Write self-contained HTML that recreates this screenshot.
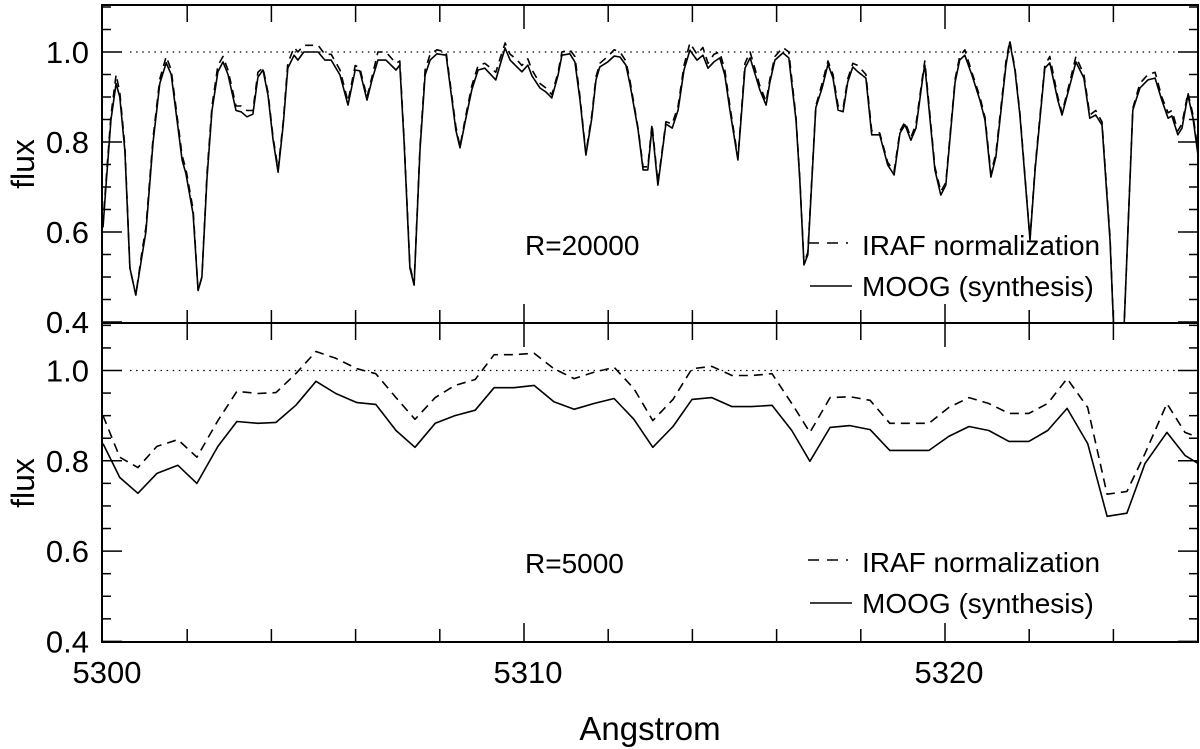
<!DOCTYPE html>
<html><head><meta charset="utf-8"><style>
html,body{margin:0;padding:0;background:#fff;}
svg{display:block;font-family:"Liberation Sans",Arial,sans-serif;}
</style></head><body>
<svg id="chart" width="1200" height="749" viewBox="0 0 1200 749">
<defs>
<clipPath id="clipTop"><rect x="102" y="5" width="1096" height="318"/></clipPath>
<clipPath id="clipBot"><rect x="102" y="323" width="1096" height="319"/></clipPath>
</defs>
</svg>
<script>
const topWave=[5300.00,5300.07,5300.19,5300.31,5300.40,5300.52,5300.64,5300.78,5300.93,5301.02,
5301.19,5301.35,5301.50,5301.62,5301.73,5301.88,5301.97,5302.14,5302.26,5302.35,
5302.47,5302.59,5302.73,5302.85,5302.97,5303.16,5303.28,5303.42,5303.56,5303.68,
5303.80,5303.92,5304.04,5304.16,5304.28,5304.39,5304.54,5304.63,5304.77,5305.11,
5305.27,5305.42,5305.63,5305.82,5305.99,5306.10,5306.27,5306.39,5306.53,5306.72,
5306.96,5307.05,5307.15,5307.29,5307.39,5307.53,5307.65,5307.77,5307.93,5308.15,
5308.29,5308.38,5308.48,5308.62,5308.76,5308.91,5309.07,5309.33,5309.43,5309.55,
5309.67,5309.81,5309.95,5310.09,5310.19,5310.38,5310.52,5310.66,5310.81,5310.90,
5311.09,5311.21,5311.33,5311.47,5311.61,5311.71,5311.80,5311.99,5312.14,5312.28,
5312.42,5312.52,5312.71,5312.83,5312.94,5313.04,5313.18,5313.37,5313.52,5313.66,
5313.80,5313.94,5314.11,5314.25,5314.37,5314.51,5314.65,5314.77,5314.89,5315.08,
5315.25,5315.37,5315.51,5315.60,5315.75,5315.84,5315.96,5316.15,5316.29,5316.46,
5316.55,5316.65,5316.74,5316.93,5317.08,5317.22,5317.34,5317.46,5317.58,5317.69,
5317.81,5317.93,5318.12,5318.26,5318.45,5318.64,5318.79,5318.93,5319.05,5319.19,
5319.31,5319.48,5319.52,5319.76,5319.90,5320.02,5320.24,5320.35,5320.47,5320.64,
5320.83,5320.95,5321.09,5321.21,5321.45,5321.54,5321.66,5321.78,5322.02,5322.14,
5322.37,5322.49,5322.68,5322.78,5322.97,5323.11,5323.30,5323.44,5323.58,5323.73,
5323.92,5324.01,5324.25,5324.46,5324.63,5324.82,5324.99,5325.15,5325.30,5325.39,
5325.53,5325.63,5325.77,5325.89,5326.01];
const topMoog=[0.61,0.70,0.85,0.93,0.90,0.78,0.52,0.46,0.55,0.60,
0.80,0.93,0.976,0.95,0.87,0.76,0.73,0.64,0.47,0.50,
0.72,0.87,0.956,0.978,0.95,0.87,0.867,0.856,0.862,0.944,
0.96,0.904,0.804,0.733,0.838,0.964,0.993,0.982,1.0,1.0,
0.982,0.982,0.949,0.882,0.96,0.958,0.893,0.938,0.982,0.982,
0.96,0.971,0.804,0.52,0.482,0.782,0.949,0.982,0.996,0.993,
0.893,0.827,0.787,0.853,0.916,0.96,0.964,0.938,0.971,1.009,
0.982,0.969,0.956,0.971,0.947,0.92,0.911,0.898,0.949,0.993,
0.996,0.978,0.893,0.771,0.853,0.938,0.967,0.978,0.991,0.989,
0.971,0.927,0.827,0.738,0.738,0.833,0.704,0.84,0.831,0.871,
0.96,1.004,0.982,0.993,0.964,0.978,0.987,0.949,0.871,0.76,
0.964,0.987,0.944,0.916,0.882,0.933,0.982,0.998,0.987,0.849,
0.716,0.527,0.549,0.876,0.92,0.973,0.942,0.871,0.867,0.933,
0.967,0.956,0.942,0.816,0.816,0.749,0.727,0.82,0.838,0.804,
0.831,0.949,0.971,0.738,0.682,0.704,0.933,0.982,0.993,0.949,
0.893,0.849,0.722,0.767,0.971,1.022,0.96,0.86,0.582,0.738,
0.964,0.976,0.893,0.86,0.927,0.978,0.942,0.853,0.86,0.838,
0.582,0.38,0.38,0.871,0.92,0.938,0.942,0.893,0.853,0.858,
0.816,0.831,0.904,0.853,0.771];
const topIraf=[0.62,0.71,0.86,0.95,0.91,0.79,0.52,0.46,0.56,0.61,
0.81,0.94,0.99,0.96,0.88,0.77,0.74,0.65,0.47,0.50,
0.73,0.88,0.97,0.99,0.96,0.88,0.88,0.87,0.87,0.955,
0.965,0.91,0.81,0.74,0.845,0.975,1.01,1.0,1.015,1.015,
0.995,0.995,0.96,0.89,0.97,0.965,0.90,0.945,1.0,1.0,
0.975,0.98,0.81,0.525,0.485,0.79,0.96,0.995,1.005,1.0,
0.90,0.835,0.79,0.86,0.925,0.97,0.975,0.955,0.985,1.02,
0.995,0.985,0.97,0.985,0.96,0.93,0.92,0.905,0.955,1.0,
1.005,0.99,0.90,0.775,0.86,0.945,0.975,0.99,1.005,1.0,
0.98,0.935,0.83,0.745,0.745,0.84,0.71,0.845,0.84,0.88,
0.97,1.02,0.995,1.01,0.975,0.995,1.0,0.96,0.88,0.765,
0.975,1.0,0.955,0.925,0.89,0.94,0.99,1.01,1.0,0.855,
0.72,0.53,0.555,0.88,0.93,0.98,0.95,0.88,0.875,0.94,
0.975,0.97,0.95,0.825,0.82,0.755,0.735,0.825,0.845,0.81,
0.84,0.955,0.98,0.745,0.69,0.71,0.94,0.99,1.005,0.955,
0.90,0.855,0.73,0.775,0.98,1.025,0.965,0.865,0.585,0.745,
0.97,0.99,0.90,0.865,0.935,0.99,0.95,0.86,0.87,0.845,
0.59,0.38,0.38,0.875,0.93,0.95,0.955,0.90,0.865,0.87,
0.825,0.84,0.91,0.86,0.78];
const botWave=[5300.00,5300.40,5300.83,5301.28,5301.78,5302.23,5302.73,5303.18,5303.68,5304.11,
5304.58,5305.06,5305.53,5306.03,5306.48,5306.96,5307.41,5307.89,5308.36,5308.84,
5309.29,5309.76,5310.24,5310.71,5311.19,5311.66,5312.14,5312.61,5313.06,5313.54,
5313.99,5314.46,5314.94,5315.41,5315.89,5316.36,5316.79,5317.27,5317.74,5318.22,
5318.69,5319.17,5319.62,5320.09,5320.57,5321.04,5321.52,5321.99,5322.44,5322.90,
5323.39,5323.85,5324.32,5324.75,5325.27,5325.70,5326.01];
const botMoog=[0.838,0.763,0.728,0.772,0.79,0.75,0.832,0.887,0.883,0.885,
0.923,0.976,0.949,0.929,0.925,0.867,0.83,0.883,0.90,0.912,
0.962,0.962,0.967,0.931,0.914,0.927,0.938,0.892,0.83,0.876,
0.936,0.94,0.92,0.92,0.923,0.867,0.799,0.874,0.878,0.869,
0.823,0.823,0.823,0.854,0.876,0.867,0.843,0.843,0.867,0.916,
0.838,0.677,0.684,0.794,0.863,0.812,0.794];
const botIraf=[0.90,0.808,0.785,0.832,0.847,0.808,0.889,0.954,0.949,0.951,
0.993,1.042,1.027,1.004,0.993,0.94,0.892,0.94,0.967,0.98,
1.035,1.035,1.038,1.004,0.982,0.996,1.007,0.96,0.889,0.936,
1.004,1.009,0.989,0.989,0.993,0.927,0.863,0.94,0.942,0.934,
0.883,0.883,0.883,0.918,0.94,0.927,0.905,0.905,0.927,0.982,
0.918,0.726,0.732,0.816,0.927,0.863,0.852];
const yTickLabels=["0.4","0.6","0.8","1.0"];
const yTickValues=[0.4,0.6,0.8,1.0];
const xTickLabels=["5300","5310","5320"];
const xTickValues=[5300,5310,5320];

const NS="http://www.w3.org/2000/svg";
const svg=document.getElementById("chart");
const X0=103, PX_PER_A=42.1, XL=102, XR=1198;
function xs(w){return X0+(w-5300)*PX_PER_A;}
const panels=[{top:5,bot:323,y1:52,clip:"clipTop",name:"top"},{top:323,bot:642,y1:370.5,clip:"clipBot",name:"bottom"}];
function ys(p,v){return p.y1-(v-1)*((p.name==="top")?450:451.5);}
function mk(tag,attrs,parent){const e=document.createElementNS(NS,tag);for(const k in attrs)e.setAttribute(k,attrs[k]);(parent||svg).appendChild(e);return e;}

panels.forEach((p,pi)=>{
  const g=mk("g",{});
  
  
  // dotted continuum
  const dl=mk("line",{x1:130,x2:1180,y1:ys(p,1),y2:ys(p,1),stroke:"#000","stroke-width":1.3,"stroke-dasharray":"1.5 4.6"},g);
  
  
  // series
  const series=pi===0?[[topWave,topIraf,"8 6","iraf-line"],[topWave,topMoog,null,"moog-line"]]:[[botWave,botIraf,"9 6","iraf-line"],[botWave,botMoog,null,"moog-line"]];
  series.forEach(s=>{
    const n=Math.min(s[0].length,s[1].length);let d="";
    for(let i=0;i<n;i++){d+=(i?"L":"M")+xs(s[0][i]).toFixed(1)+" "+ys(p,s[1][i]).toFixed(1);}
    const a={d:d,fill:"none",stroke:"#000","stroke-width":1.6,"clip-path":"url(#"+p.clip+")","stroke-linejoin":"round"};
    if(s[2])a["stroke-dasharray"]=s[2];
    const path=mk("path",a,g);
    
    
  });
  // frame
  const fr=mk("rect",{x:XL,y:p.top,width:XR-XL,height:p.bot-p.top,fill:"none",stroke:"#000","stroke-width":2},g);
  
  
  // y ticks
  for(let k=0;k<=14;k++){
    const v=0.4+k*0.05;const y=ys(p,v);if(y<p.top+1)continue;
    const major=(k%4===0);const L=major?20:9;
    const t1=mk("line",{x1:XL,x2:XL+L,y1:y,y2:y,stroke:"#000","stroke-width":1.5},g);
    
    
    const t2=mk("line",{x1:XR,x2:XR-L,y1:y,y2:y,stroke:"#000","stroke-width":1.5},g);
    
    
  }
  yTickValues.forEach((v,i)=>{
    const t=mk("text",{x:89,y:ys(p,v)+11,"text-anchor":"end","font-size":31},g);
    t.textContent=yTickLabels[i];
    
    
  });
  // x ticks
  for(let w=5302;w<=5326;w+=2){
    const x=xs(w);if(x>XR-2)continue;
    const major=(w%10===0);
    const Ld=major?24:17, Lu=major?19:13;
    const a=mk("line",{x1:x,x2:x,y1:p.top,y2:p.top+Ld,stroke:"#000","stroke-width":1.5},g);
    
    
    const b=mk("line",{x1:x,x2:x,y1:p.bot,y2:p.bot-Lu,stroke:"#000","stroke-width":1.5},g);
    
    
  }
  // axis title
  const cy=pi===0?164:483;
  const ft=mk("text",{x:0,y:0,"font-size":32,"text-anchor":"middle",transform:"translate(34,"+cy+") rotate(-90)"},g);
  ft.textContent="flux";
  
  
  // resolution label
  const rl=mk("text",{x:525,y:pi===0?255:573,"font-size":28},g);
  rl.textContent=pi===0?"R=20000":"R=5000";
  
  
  // legend
  const ly=pi===0?243:560;
  const lg=mk("g",{},g);
  
  
  const e1=mk("line",{x1:808,x2:848,y1:ly,y2:ly,stroke:"#000","stroke-width":1.6,"stroke-dasharray":"11 8"},lg);
  
  
  const t1=mk("text",{x:862,y:ly+12,"font-size":28},lg);
  t1.textContent="IRAF normalization";
  
  
  const e2=mk("line",{x1:810,x2:852,y1:ly+43,y2:ly+43,stroke:"#000","stroke-width":1.6},lg);
  
  
  const t2=mk("text",{x:862,y:ly+53,"font-size":28},lg);
  t2.textContent="MOOG (synthesis)";
  
  
});
xTickValues.forEach((w,i)=>{
  const t=mk("text",{x:xs(w)+(i===0?4:4),y:683,"text-anchor":"middle","font-size":31});
  t.textContent=xTickLabels[i];
  
  
});
const xt=mk("text",{x:650,y:740,"text-anchor":"middle","font-size":33});
xt.textContent="Angstrom";


</script>
</body></html>
